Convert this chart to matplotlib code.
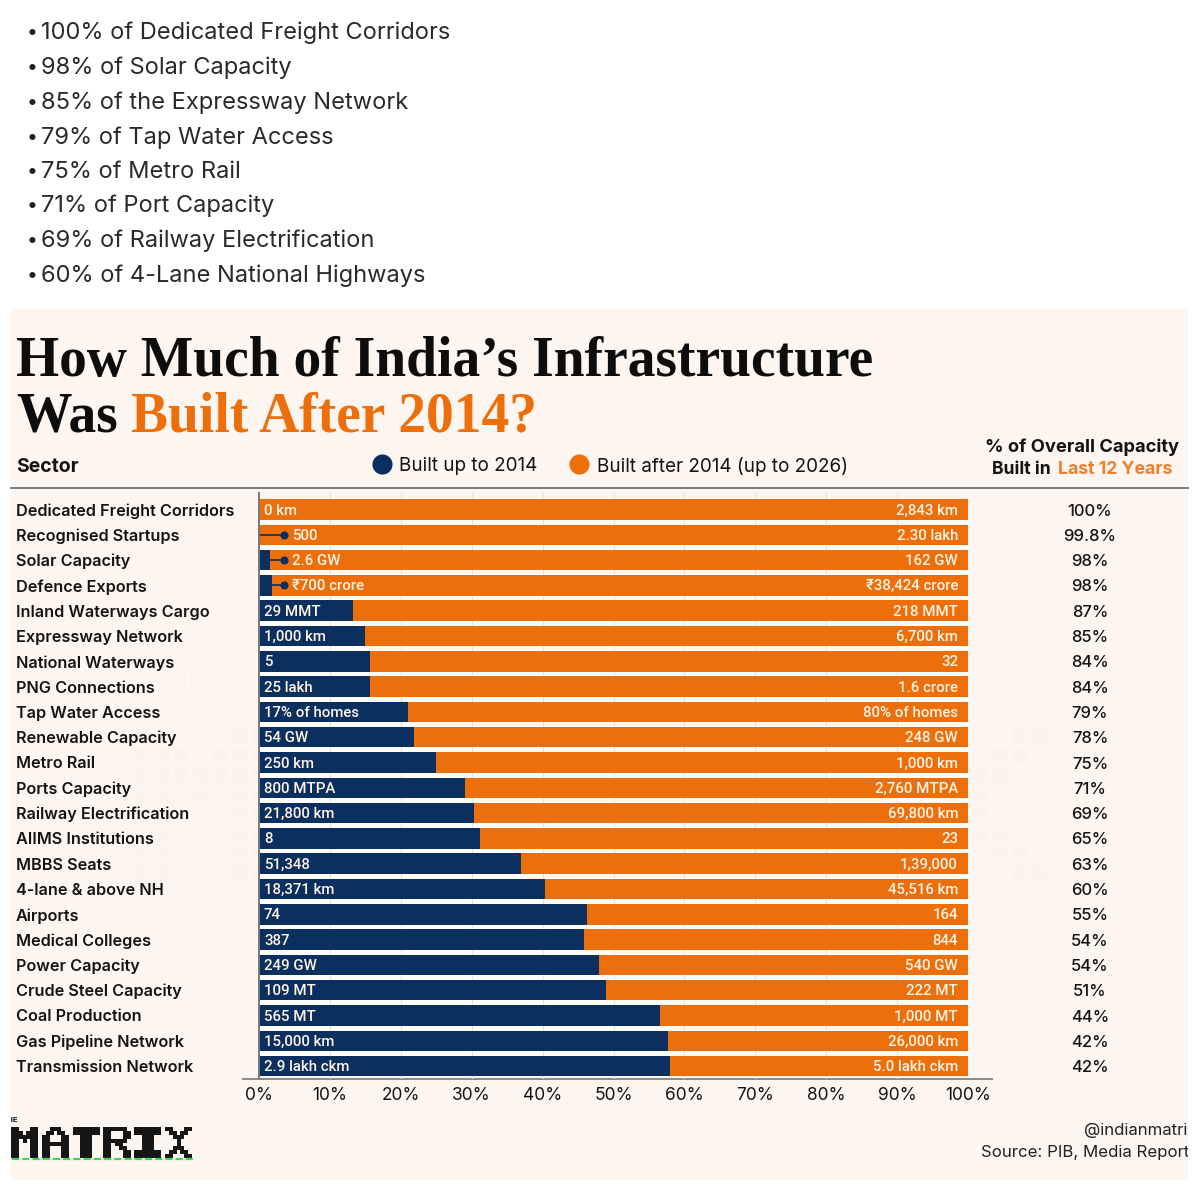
import matplotlib
matplotlib.use('Agg')
import matplotlib.pyplot as plt
import numpy as np
from matplotlib.patches import Rectangle

bullets = ['100% of Dedicated Freight Corridors', '98% of Solar Capacity',
           '85% of the Expressway Network', '79% of Tap Water Access',
           '75% of Metro Rail', '71% of Port Capacity',
           '69% of Railway Electrification', '60% of 4-Lane National Highways']

sectors = ['Dedicated Freight Corridors', 'Recognised Startups', 'Solar Capacity',
           'Defence Exports', 'Inland Waterways Cargo', 'Expressway Network',
           'National Waterways', 'PNG Connections', 'Tap Water Access',
           'Renewable Capacity', 'Metro Rail', 'Ports Capacity',
           'Railway Electrification', 'AIIMS Institutions', 'MBBS Seats',
           '4-lane & above NH', 'Airports', 'Medical Colleges', 'Power Capacity',
           'Crude Steel Capacity', 'Coal Production', 'Gas Pipeline Network',
           'Transmission Network']
before_share = [0, 0.2, 1.6, 1.8, 13.3, 15, 15.6, 15.6, 21, 21.8, 25, 29, 30.3,
                31.2, 36.9, 40.4, 46.2, 45.8, 47.9, 49, 56.5, 57.7, 58]
before_labels = ['0 km', '500', '2.6 GW', '₹700 crore', '29 MMT', '1,000 km', '5',
                 '25 lakh', '17% of homes', '54 GW', '250 km', '800 MTPA', '21,800 km',
                 '8', '51,348', '18,371 km', '74', '387', '249 GW', '109 MT', '565 MT',
                 '15,000 km', '2.9 lakh ckm']
after_labels = ['2,843 km', '2.30 lakh', '162 GW', '₹38,424 crore', '218 MMT', '6,700 km',
                '32', '1.6 crore', '80% of homes', '248 GW', '1,000 km', '2,760 MTPA',
                '69,800 km', '23', '1,39,000', '45,516 km', '164', '844', '540 GW',
                '222 MT', '1,000 MT', '26,000 km', '5.0 lakh ckm']
pct_labels = ['100%', '99.8%', '98%', '98%', '87%', '85%', '84%', '84%', '79%', '78%',
              '75%', '71%', '69%', '65%', '63%', '60%', '55%', '54%', '54%', '51%',
              '44%', '42%', '42%']

logo_rows = {
    'M': ['XX...XX', 'XXX.XXX', 'XXXXXXX', 'XX.X.XX', 'XX...XX', 'XX...XX', 'XX...XX', 'XX...XX'],
    'A': ['..XXX..', '.XX.XX.', 'XX...XX', 'XX...XX', 'XXXXXXX', 'XX...XX', 'XX...XX', 'XX...XX'],
    'T': ['XXXXXXX', 'XXXXXXX', '..XXX..', '..XXX..', '..XXX..', '..XXX..', '..XXX..', '..XXX..'],
    'R': ['XXXXXX.', 'XX...XX', 'XX...XX', 'XXXXXX.', 'XX.XX..', 'XX..XX.', 'XX...XX', 'XX...XX'],
    'I': ['XXXXXXX', 'XXXXXXX', '..XXX..', '..XXX..', '..XXX..', '..XXX..', 'XXXXXXX', 'XXXXXXX'],
    'X': ['XX...XX', '.XX.XX.', '..XXX..', '...X...', '...X...', '..XXX..', '.XX.XX.', 'XX...XX'],
}

NAVY = '#0B2F5E'
ORANGE = '#EC6F0C'
PANEL = '#FDF6F0'
INK = '#141414'
SANS = ['Inter', 'DejaVu Sans']
BAR_FONT = ['Roboto', 'DejaVu Sans']


def draw_logo(ax, x0, y0, cell, color, marker_scale=0.82):
    xs, ys = [], []
    for n, letter in enumerate('MATRIX'):
        for r, row in enumerate(logo_rows[letter]):
            for c, ch in enumerate(row):
                if ch == 'X':
                    xs.append(x0 + (n * 8 + c) * cell)
                    ys.append(y0 + r * cell)
    size = (cell * marker_scale * 0.72) ** 2
    ax.scatter(xs, ys, s=size, marker='s', color=color, linewidths=0, zorder=1)


fig = plt.figure(figsize=(12, 12), dpi=100, facecolor='white')

# full figure overlay in pixel coordinates for the text and furniture
page = fig.add_axes([0, 0, 1, 1])
page.set_xlim(0, 1200)
page.set_ylim(1200, 0)
page.axis('off')
page.add_patch(Rectangle((11, 309), 1177, 871, color=PANEL, lw=0, zorder=0))

draw_logo(page, 142, 736, 19.5, '#FBF3ED')
page.text(160, 684, 'HE', fontsize=27, family=SANS, weight='bold', color='#FBF3ED', va='center')

for i, txt in enumerate(bullets):
    y = [33, 68, 103, 138, 172, 206, 241, 276][i]
    page.text(27, y, '•', fontsize=14, family=SANS, color='#222222', va='center')
    page.text(41, y, txt, fontsize=17, family=SANS, weight='normal', color='#2a2a2a', va='center')

page.text(16, 362, 'How Much of India’s Infrastructure', fontsize=40, family='Liberation Serif',
          weight='bold', color='#0d0d0d', va='center')
page.text(16, 418, 'Was', fontsize=40, family='Liberation Serif', weight='bold', color='#0d0d0d', va='center')
page.text(131, 418, 'Built After 2014?', fontsize=40, family='Liberation Serif', weight='bold',
          color=ORANGE, va='center')

page.text(16, 467, 'Sector', fontsize=14, family=SANS, weight='bold', color=INK, va='center')
page.scatter([382], [464], s=210, color=NAVY, linewidths=0)
page.text(399, 466, 'Built up to 2014', fontsize=13.6, family=SANS, color=INK, va='center')
page.scatter([579], [464], s=210, color=ORANGE, linewidths=0)
page.text(597, 466, 'Built after 2014 (up to 2026)', fontsize=13.6, family=SANS, color=INK, va='center')

page.text(1082, 447, '% of Overall Capacity', fontsize=13.2, family=SANS, weight='bold', color=INK,
          ha='center', va='center')
page.text(992, 469, 'Built in', fontsize=12.7, family=SANS, weight='bold', color=INK, va='center')
page.text(1058, 469, 'Last 12 Years', fontsize=12.7, family=SANS, weight='bold', color='#EE7F2E', va='center')

page.plot([11, 1188], [488, 488], color='#7d7d7d', lw=1.4)
page.plot([243, 992], [1079, 1079], color='#8a8a8a', lw=1.4)

# logo at the bottom
draw_logo(page, 13, 1129, 3.85, '#161616', marker_scale=0.9)
page.plot([12, 193], [1159, 1159], color='#33DB58', lw=1.6, ls=(0, (3.2, 1.4)))
page.text(3, 1120, 'THE', fontsize=5.5, family=SANS, weight='bold', color=INK, va='center')

page.text(1084, 1130, '@indianmatrix', fontsize=12.1, family=SANS, color='#222222', va='center')
page.text(981, 1152, 'Source: PIB, Media Reports', fontsize=12.1, family=SANS, color='#222222', va='center')

# white strips clip the overflowing text at the panel edges, as in the source
page.add_patch(Rectangle((1188, 1100), 12, 100, color='white', lw=0, zorder=5))
page.add_patch(Rectangle((0, 1100), 11, 100, color='white', lw=0, zorder=5))

# the chart itself, 0-100% spans x 259..968 and rows run from y 493 to 1079
ax = fig.add_axes([259 / 1200, 1 - 1079 / 1200, 709 / 1200, 586 / 1200])
ax.patch.set_alpha(0)
ax.set_xlim(0, 100)
ax.set_ylim(22.51, -0.652)

rows = np.arange(len(sectors))
before = np.array(before_share)
ax.axhspan(0, 22, color='#FFFDFB', lw=0, zorder=0)
for gx in range(10, 100, 10):
    ax.axvline(gx, color='#E9E2DC', lw=0.8, zorder=1)
ax.barh(rows, before, height=0.81, color=NAVY, lw=0, zorder=2)
ax.barh(rows, 100 - before, left=before, height=0.81, color=ORANGE, lw=0, zorder=2)

for y, b in enumerate(before_share):
    lab_x = 0.7
    if 0 < b < 5:
        ax.plot([b, 3.55], [y, y], color=NAVY, lw=1.2, zorder=3, solid_capstyle='butt')
        ax.plot([3.55], [y], marker='o', ms=4.8, color=NAVY, zorder=3)
        lab_x = 4.65
    ax.text(lab_x, y + 0.04, before_labels[y], fontsize=10.8, family=BAR_FONT, weight='medium',
            color='#FFF3E6', va='center', zorder=4)
    ax.text(98.6, y + 0.04, after_labels[y], fontsize=10.8, family=BAR_FONT, weight='medium',
            color='#FFF3E6', ha='right', va='center', zorder=4)
    ax.text(117.2, y + 0.06, pct_labels[y], fontsize=12, family=SANS, weight='medium', color=INK,
            ha='center', va='center', clip_on=False)

ax.set_xticks(np.arange(0, 101, 10))
ax.set_xticklabels([f'{v}%' for v in range(0, 101, 10)], fontsize=12.5, family=SANS, color=INK)
ax.set_yticks(rows)
ax.set_yticklabels(sectors, fontsize=11.7, family=SANS, weight='semibold', color=INK, ha='left')
ax.tick_params(axis='x', length=0, pad=6)
ax.tick_params(axis='y', length=0, pad=243 * 0.72)
for side in ['top', 'right', 'bottom']:
    ax.spines[side].set_visible(False)
ax.spines['left'].set_color('#77797f')
ax.spines['left'].set_linewidth(1.4)

fig.savefig('out.png', dpi=100)
